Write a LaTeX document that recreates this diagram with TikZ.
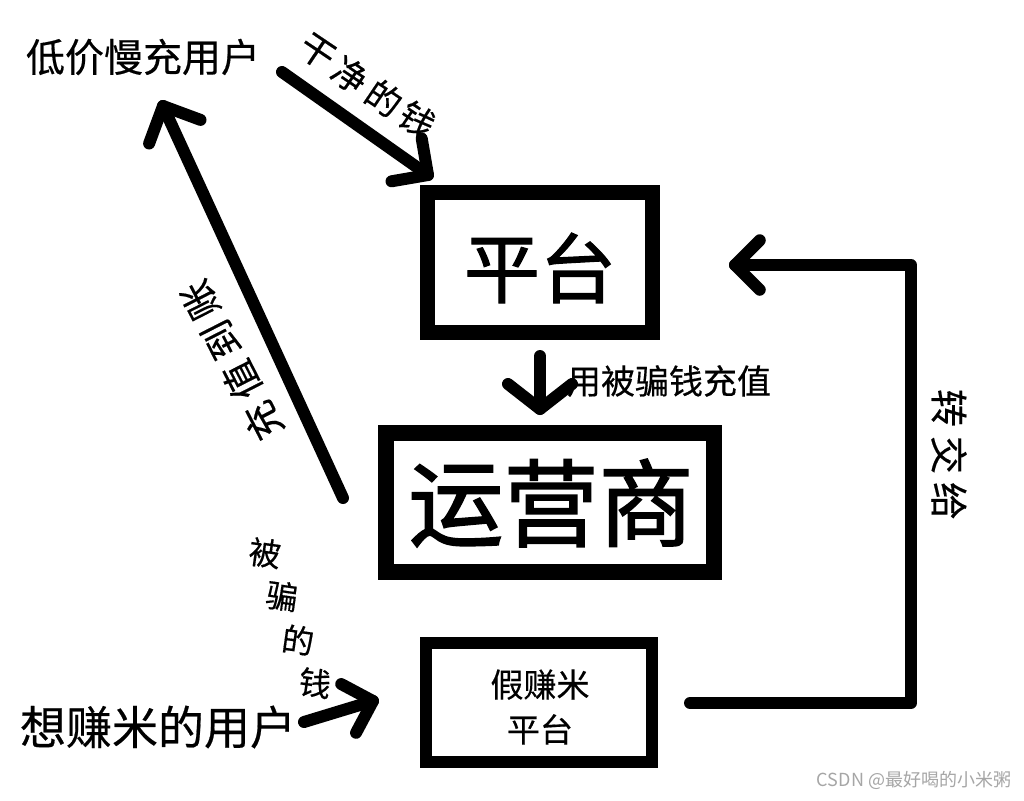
\documentclass[tikz,border=0pt]{standalone}
\usepackage{fontspec}
\newfontfamily\cjk[FakeBold=0.4]{Noto Sans CJK SC}
\newfontfamily\cjkbig[FakeBold=1.6]{Noto Sans CJK SC}
\newfontfamily\cjkwm{Noto Sans CJK SC}
\usetikzlibrary{calc}
\newcommand\myfs[1]{\fontsize{#1}{#1}\selectfont}
\begin{document}
\begin{tikzpicture}[x=1pt,y=-1pt,
  box/.style={draw, rectangle, inner sep=0pt},
  arr/.style={line width=12pt, line cap=round, line join=round},
  lbl/.style={inner sep=0pt, font=\cjk\myfs{#1}},
  big/.style={inner sep=0pt, font=\cjkbig\myfs{#1}},
  lbl/.default=34]
\useasboundingbox[fill=white] (0,0) rectangle (1024,800);
% boxes
\node[box, line width=15pt, minimum width=225pt, minimum height=140pt] (plat) at (540,262.5) {};
\node[big=76] (platt) at (540,268) {平台};
\node[box, line width=16pt, minimum width=328pt, minimum height=139pt] (oper) at (550,502.5) {};
\node[big=95] (opert) at (551,503) {运营商};
\node[box, line width=12pt, minimum width=226pt, minimum height=119pt] (fake) at (539,702.5) {};
\node[lbl=33, align=center] (faket) at (540,707) {假赚米\\[12pt]平台};
% user texts
\node[lbl=39] (low) at (143,57) {低价慢充用户};
\node[lbl=46] (want) at (158,727) {想赚米的用户};
% coordinates
\coordinate (a1s) at (282,72);   \coordinate (a1t) at (428,175);
\coordinate (a2s) at (540,356);  \coordinate (a2t) at (540,409);
\coordinate (a3s) at (343,498);  \coordinate (a3t) at (163,106);
\coordinate (a4s) at (304,722);  \coordinate (a4t) at (373,701);
\coordinate (r1) at (690,703);   \coordinate (r2) at (911,703);
\coordinate (r3) at (911,265);   \coordinate (r4) at (735,265);
% arrows
\newcommand\chev[3]{\draw[arr] ($(#1)!#3!45:(#2)$) -- (#1) -- ($(#1)!#3!-45:(#2)$);}
\draw[arr] (a1s) -- (a1t); \chev{a1t}{a1s}{37pt}
\draw[arr] (a2s) -- (a2t); \draw[arr] (508,384) -- (a2t) -- (572,384);
\draw[arr] (a3s) -- (a3t); \chev{a3t}{a3s}{40pt}
\draw[arr] (a4s) -- (a4t); \chev{a4t}{a4s}{36pt}
\draw[arr] (r1) -- (r2) -- (r3) -- (r4); \chev{r4}{r3}{35pt}
% labels
\node[lbl=35, rotate=-34] (l1a) at (317,52) {干};
\node[lbl=35, rotate=-34] (l1b) at (350,75) {净};
\node[lbl=35, rotate=-34] (l1c) at (384,98) {的};
\node[lbl=35, rotate=-34] (l1d) at (417,120) {钱};
\node[lbl=34] (l2) at (669,381) {用被骗钱充值};
\node[lbl=38, rotate=117] (l3a) at (263,421) {充};
\node[lbl=38, rotate=117] (l3b) at (242,380) {值};
\node[lbl=38, rotate=117] (l3c) at (221,340) {到};
\node[lbl=38, rotate=117] (l3d) at (200,300) {账};
\node[lbl=38, rotate=-90] (l4a) at (949,408) {转};
\node[lbl=38, rotate=-90] (l4b) at (949,455) {交};
\node[lbl=38, rotate=-90] (l4c) at (949,501) {给};
\node[lbl=32, rotate=-8] (l5a) at (265,553) {被};
\node[lbl=32, rotate=-8] (l5b) at (282,596) {骗};
\node[lbl=32, rotate=-8] (l5c) at (298,640) {的};
\node[lbl=32, rotate=-8] (l5d) at (315,683) {钱};
\node[inner sep=0pt, font=\cjkwm\myfs{18}, text=black!35] (wm) at (914,780) {CSDN @最好喝的小米粥};
\end{tikzpicture}
\end{document}
